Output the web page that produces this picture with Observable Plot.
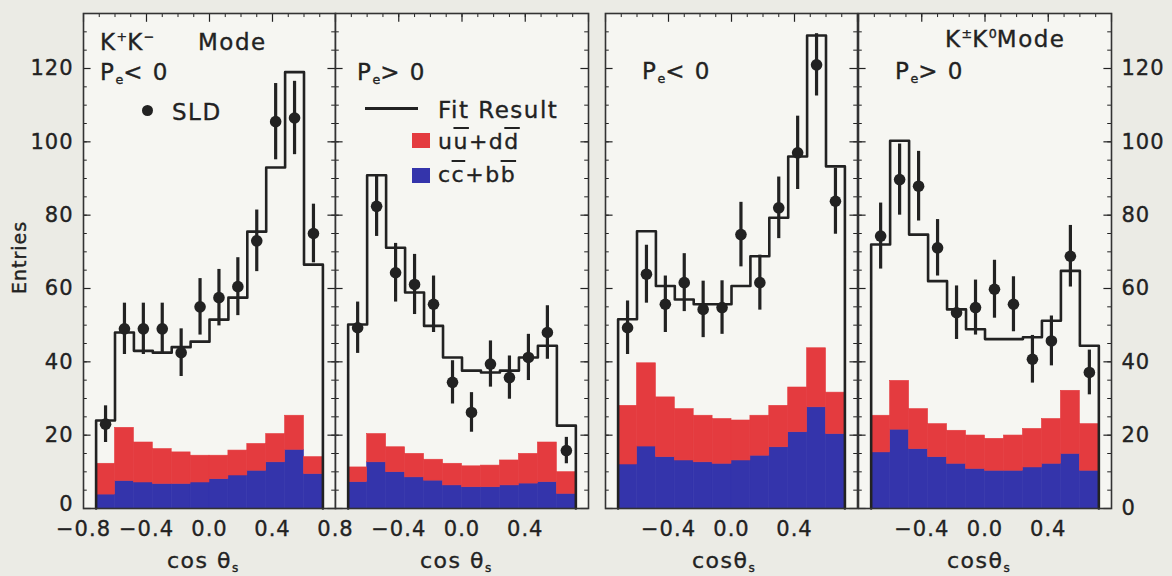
<!DOCTYPE html>
<html>
<head>
<meta charset="utf-8">
<script src="https://cdn.jsdelivr.net/npm/d3@7"></script>
<script src="https://cdn.jsdelivr.net/npm/@observablehq/plot@0.6"></script>
<style>
html,body{margin:0;padding:0;background:#ebebe5;}
#wrap{position:relative;width:1172px;height:576px;overflow:hidden;font-family:"DejaVu Sans",sans-serif;color:#222;}
#wrap svg{position:absolute;left:0;top:0;}
#wrap svg text{stroke:#222;stroke-width:0.35px;}
.lab{position:absolute;white-space:nowrap;line-height:1;letter-spacing:1.5px;-webkit-text-stroke:0.35px #222;}
.lab sub,.lab sup{line-height:0;font-size:0.55em;letter-spacing:0;}
.lab sub{vertical-align:-0.35em;}
.lab sup{vertical-align:0.75em;}
.ol{text-decoration:overline;text-decoration-thickness:1.5px;}
.sw{position:absolute;}
</style>
</head>
<body>
<div id="wrap"></div>
<script>
// ---- bins in cos(theta_s) ----
const binLo  = [-0.72,-0.60,-0.48,-0.36,-0.24,-0.12,0.00,0.12,0.24,0.36,0.48,0.60];
const binHi  = [-0.60,-0.48,-0.36,-0.24,-0.12,0.00,0.12,0.24,0.36,0.48,0.60,0.72];
const binMid = [-0.66,-0.54,-0.42,-0.30,-0.18,-0.06,0.06,0.18,0.30,0.42,0.54,0.66];

// ---- K+K- mode, Pe < 0 ----
const sldKKneg  = [23, 49, 49, 49, 42.5, 55, 57.5, 60.5, 73, 105.5, 106.5, 75];
const errKKneg  = [5, 7, 7, 7, 6.5, 7.7, 7.7, 7.9, 8.4, 10.4, 10, 8];
const fitKKneg  = [24, 48, 43, 42.5, 44, 45.5, 51.5, 57.5, 75.5, 93, 119, 66.5];
const bkgKKneg  = [12.2, 22, 18, 16.2, 15.3, 14.4, 14.4, 15.8, 17.6, 20.3, 25.3, 14];
const ccbbKKneg = [3.8, 7.5, 7.1, 6.7, 6.7, 7.1, 8.0, 9.0, 10.3, 12.6, 16.0, 9.4];

// ---- K+K- mode, Pe > 0 ----
const sldKKpos  = [49.3, 82.4, 64.3, 61.1, 55.7, 34.4, 26.2, 39.4, 35.7, 41.2, 48, 15.8];
const errKKpos  = [7, 8.2, 8, 8.2, 7.7, 5.9, 5.4, 6.3, 5.9, 6.3, 7.3, 3.6];
const fitKKpos  = [50.2, 90.9, 71.1, 58.9, 49.8, 41.2, 37.6, 37.1, 37.6, 41.2, 44.4, 22.6];
const bkgKKpos  = [11.2, 20.3, 16.7, 14.9, 13.3, 12.2, 11.5, 11.7, 13.1, 14.9, 18, 9.9];
const ccbbKKpos = [7.2, 12.6, 9.9, 8.5, 7.6, 6.3, 5.8, 5.8, 6.3, 6.8, 7.2, 4];

// ---- K±K0 mode, Pe < 0 ----
const sldK0neg  = [49.3, 63.9, 55.7, 61.6, 54.3, 54.8, 74.7, 61.6, 82, 97, 121, 83.8];
const errK0neg  = [7.3, 7.9, 7.7, 7.9, 7.7, 7.3, 8.8, 7.5, 8.4, 10, 8.5, 9];
const fitK0neg  = [51.6, 75.6, 60.7, 57, 55.7, 55.7, 60.7, 68.8, 79.3, 96, 129, 93.3];
const bkgK0neg  = [28, 39.6, 30.3, 27.1, 25.3, 24.4, 24, 25.3, 28, 33, 43.7, 31.6];
const ccbbK0neg = [12, 16.9, 14, 13.1, 12.6, 12.2, 13.1, 14.4, 16.7, 20.8, 27.6, 20.3];

// ---- K±K0 mode, Pe > 0 ----
const sldK0pos  = [74.3, 89.7, 87.9, 71.1, 53.4, 54.8, 59.8, 55.7, 40.7, 45.7, 68.8, 37.1];
const errK0pos  = [9, 9.7, 9.5, 7.7, 7.3, 7.5, 7.9, 7.5, 6.5, 6.8, 8.4, 6.1];
const fitK0pos  = [72, 100.3, 74.7, 62, 54.3, 48.9, 46.2, 46.2, 46.7, 51.2, 64.8, 44.4];
const bkgK0pos  = [25.3, 34.8, 27.1, 23, 21.2, 19.9, 19, 19.9, 21.7, 24.4, 32.1, 23];
const ccbbK0pos = [15.3, 21.5, 16.2, 14, 12.2, 10.8, 10.3, 10.3, 11.2, 12.2, 14.9, 10.3];

// ---- axes ----
const yTickValues = [0, 20, 40, 60, 80, 100, 120];
const xTicksFirst = [-0.8, -0.4, 0, 0.4, 0.8];
const xTicksOther = [-0.4, 0, 0.4];
const xMajorMarks = [-0.8, -0.4, 0, 0.4, 0.8];

const ink = "#222";
const red = "#e43b3f";
const blue = "#3434ab";
const innerBg = "#f6f6f2";
const W = 1172, H = 576;
const xDom = [-0.8, 0.8], yDom = [0, 135];
const yMinor = d3.range(0, 135, 5);
const xMinor = d3.range(-8, 9, 1).map(v => v / 10);
const fmt = d => d === 0 ? "0.0" : (d < 0 ? "\u2212" : "") + Math.abs(d).toFixed(1);

const wrap = document.getElementById("wrap");

function panel({sld, err, fit, bkg, ccbb, left, right, xticks, yaxis}) {
  const bins = binMid.map((m, i) => ({lo: binLo[i], hi: binHi[i], mid: m,
    sld: sld[i], err: err[i], fit: fit[i], bkg: bkg[i], ccbb: ccbb[i]}));
  const fitPath = [{x: binLo[0], y: 0}, ...bins.map(b => ({x: b.lo, y: b.fit})), {x: binHi[binHi.length - 1], y: 0}];
  const chart = Plot.plot({
    width: W, height: H,
    marginLeft: left, marginRight: W - right, marginTop: 13, marginBottom: 68,
    style: {background: "transparent", fontFamily: "DejaVu Sans", fontSize: "21px", color: ink, overflow: "visible", letterSpacing: "1px"},
    x: {domain: xDom, ticks: xticks, tickFormat: fmt, tickSize: 0, tickPadding: 13, label: null},
    y: {domain: yDom, ticks: yTickValues, tickSize: 0, tickPadding: 10, label: null, axis: yaxis},
    marks: [
      Plot.frame({fill: innerBg, stroke: "none"}),
      Plot.rect(bins, {x1: "lo", x2: "hi", y1: () => 0, y2: "ccbb", fill: blue, stroke: blue, strokeWidth: 0.6}),
      Plot.rect(bins, {x1: "lo", x2: "hi", y1: "ccbb", y2: "bkg", fill: red, stroke: red, strokeWidth: 0.6}),
      Plot.line(fitPath, {x: "x", y: "y", curve: "step-after", stroke: ink, strokeWidth: 2.6}),
      Plot.ruleX(bins, {x: "mid", y1: d => d.sld - d.err, y2: d => d.sld + d.err, stroke: ink, strokeWidth: 3.2}),
      Plot.dot(bins, {x: "mid", y: "sld", r: 5.8, fill: ink}),
      // inward frame ticks
      Plot.ruleY(yMinor, {y: d => d, x1: () => -0.8, x2: () => -0.776, stroke: ink, strokeWidth: 1}),
      Plot.ruleY(yTickValues, {y: d => d, x1: () => -0.8, x2: () => -0.752, stroke: ink, strokeWidth: 1.2}),
      Plot.ruleY(yMinor, {y: d => d, x1: () => 0.8, x2: () => 0.776, stroke: ink, strokeWidth: 1}),
      Plot.ruleY(yTickValues, {y: d => d, x1: () => 0.8, x2: () => 0.752, stroke: ink, strokeWidth: 1.2}),
      Plot.ruleX(xMinor, {x: d => d, y1: () => 135, y2: () => 133.9, stroke: ink, strokeWidth: 1}),
      Plot.ruleX(xMajorMarks, {x: d => d, y1: () => 135, y2: () => 132.6, stroke: ink, strokeWidth: 1.2}),
      Plot.frame({stroke: "#333", strokeWidth: 1.6})
    ]
  });
  wrap.appendChild(chart);
  return chart;
}

const p1 = panel({sld: sldKKneg, err: errKKneg, fit: fitKKneg, bkg: bkgKKneg, ccbb: ccbbKKneg, left: 83, right: 335, xticks: xTicksFirst, yaxis: "left"});
panel({sld: sldKKpos, err: errKKpos, fit: fitKKpos, bkg: bkgKKpos, ccbb: ccbbKKpos, left: 335, right: 588, xticks: xTicksOther, yaxis: null});
panel({sld: sldK0neg, err: errK0neg, fit: fitK0neg, bkg: bkgK0neg, ccbb: ccbbK0neg, left: 605, right: 857, xticks: xTicksOther, yaxis: null});
panel({sld: sldK0pos, err: errK0pos, fit: fitK0pos, bkg: bkgK0pos, ccbb: ccbbK0pos, left: 858, right: 1111, xticks: xTicksOther, yaxis: "right"});

// nudge the left "0" tick label up a little so it clears the "−0.8" label below it
p1.querySelectorAll("text").forEach(t => {
  if (t.textContent.trim() === "0") {
    t.setAttribute("transform", ((t.getAttribute("transform") || "") + " translate(0,-4)").trim());
  }
});

// ---- text labels (HTML) ----
function label(html, x, baseline, fs) {
  const d = document.createElement("div");
  d.className = "lab";
  d.style.left = x + "px";
  d.style.top = (baseline - 0.846 * fs) + "px";
  d.style.fontSize = fs + "px";
  d.innerHTML = html;
  wrap.appendChild(d);
  return d;
}
function swatch(x, y, w, h, css) {
  const d = document.createElement("div");
  d.className = "sw";
  Object.assign(d.style, {left: x + "px", top: y + "px", width: w + "px", height: h + "px"}, css);
  wrap.appendChild(d);
}

// panel 1
label("K<sup>+</sup>K<sup>\u2212</sup>", 100, 50, 23);
label("Mode", 198, 50, 23);
label("P<sub>e</sub>&lt; 0", 100, 80, 23);
swatch(142, 105, 11, 11, {background: ink, borderRadius: "50%"});
label("SLD", 172, 120, 23);
// panel 2
label("P<sub>e</sub>&gt; 0", 357, 80, 23);
swatch(365, 107, 53, 3, {background: ink});
label("Fit Result", 438, 118, 23);
swatch(412, 133, 18, 15, {background: red});
label("u<span class='ol'>u</span>+d<span class='ol'>d</span>", 438, 150, 22);
swatch(412, 168, 18, 15, {background: blue});
label("c<span class='ol'>c</span>+b<span class='ol'>b</span>", 438, 183, 22);
// panel 3
label("P<sub>e</sub>&lt; 0", 642, 79, 23);
// panel 4
label("K<sup>\u00b1</sup>K<sup>0</sup>Mode", 945, 47, 23);
label("P<sub>e</sub>&gt; 0", 895, 79, 23);

// axis titles
label("cos \u03b8<sub>s</sub>", 167, 569, 22);
label("cos \u03b8<sub>s</sub>", 420, 569, 22);
label("cos\u03b8<sub>s</sub>", 692, 569, 22);
label("cos\u03b8<sub>s</sub>", 947, 569, 22);

const ent = label("Entries", 0, 0, 19);
ent.style.letterSpacing = "1px";
const r = ent.getBoundingClientRect();
ent.style.left = (20 - r.width / 2) + "px";
ent.style.top = (257 - r.height / 2) + "px";
ent.style.transform = "rotate(-90deg)";
</script>
</body>
</html>
